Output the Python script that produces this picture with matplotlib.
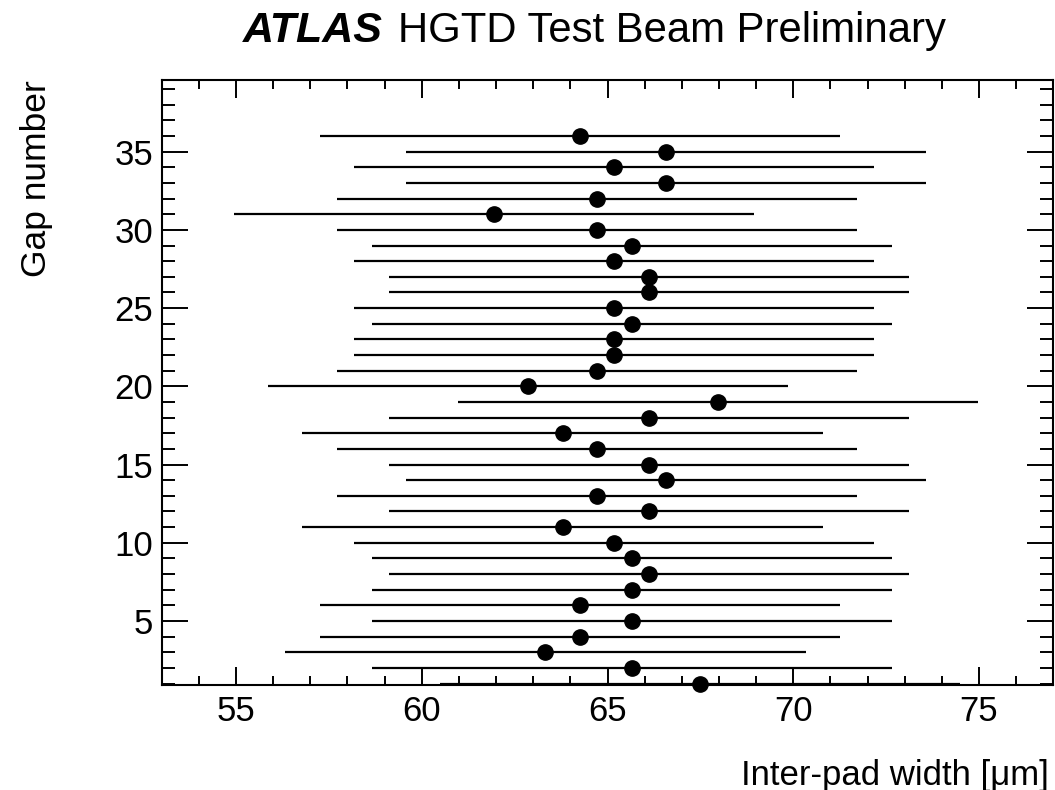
import matplotlib
matplotlib.use('Agg')
import matplotlib.pyplot as plt
from matplotlib.ticker import MultipleLocator

# ---- data ----
gap_number = [1, 2, 3, 4, 5, 6, 7, 8, 9, 10, 11, 12, 13, 14, 15, 16, 17, 18,
              19, 20, 21, 22, 23, 24, 25, 26, 27, 28, 29, 30, 31, 32, 33, 34, 35, 36]
width_um = [67.50, 65.65, 63.33, 64.26, 65.65, 64.26, 65.65, 66.11, 65.65, 65.18,
            63.79, 66.11, 64.72, 66.58, 66.11, 64.72, 63.79, 66.11, 67.97, 62.87,
            64.72, 65.18, 65.18, 65.65, 65.18, 66.11, 66.11, 65.18, 65.65, 64.72,
            61.95, 64.72, 66.58, 65.18, 66.58, 64.26]
width_err = [7.0, 7.0, 7.0, 7.0, 7.0, 7.0, 7.0, 7.0, 7.0, 7.0, 7.0, 7.0,
             7.0, 7.0, 7.0, 7.0, 7.0, 7.0, 7.0, 7.0, 7.0, 7.0, 7.0, 7.0,
             7.0, 7.0, 7.0, 7.0, 7.0, 7.0, 7.0, 7.0, 7.0, 7.0, 7.0, 7.0]
x_ticks = [55, 60, 65, 70, 75]
y_ticks = [5, 10, 15, 20, 25, 30, 35]

plt.rcParams['font.family'] = ['Liberation Sans', 'DejaVu Sans']

W, H = 1055, 790
fig = plt.figure(figsize=(W / 100, H / 100), dpi=100)
ax = fig.add_axes([161.7 / W, 1 - 685 / H, (1053.3 - 161.7) / W, (685 - 80) / H])

ax.errorbar(width_um, gap_number, xerr=width_err, fmt='o', color='black',
            markersize=11, elinewidth=1.6, capsize=0, clip_on=False, zorder=3)

ax.set_xlim(53, 77)
ax.set_ylim(0.91, 39.58)
ax.set_xticks(x_ticks)
ax.set_yticks(y_ticks)
ax.xaxis.set_minor_locator(MultipleLocator(1))
ax.yaxis.set_minor_locator(MultipleLocator(1))

ax.tick_params(which='both', direction='in', top=True, right=True, width=1.4,
               labelsize=25, colors='black')
ax.tick_params(axis='x', which='major', length=13, pad=7.5)
ax.tick_params(axis='x', which='minor', length=6.5)
ax.tick_params(axis='y', which='major', length=18.5, pad=6)
ax.tick_params(axis='y', which='minor', length=9.3)
for s in ax.spines.values():
    s.set_linewidth(1.5)

ax.set_xlabel('Inter-pad width [\u03bcm]', fontsize=25, loc='right')
ax.xaxis.set_label_coords(0.995, -0.122)
ax.set_ylabel('Gap number', fontsize=25.5, loc='top')
ax.yaxis.set_label_coords(-0.122, 1.0)

fig.text(243 / W, 1 - 42.3 / H, 'ATLAS', fontsize=31, fontweight='bold',
         fontstyle='italic', ha='left', va='baseline')
fig.text(398 / W, 1 - 42.3 / H, 'HGTD Test Beam Preliminary', fontsize=30.2,
         ha='left', va='baseline')

fig.savefig('out.png', dpi=100)
